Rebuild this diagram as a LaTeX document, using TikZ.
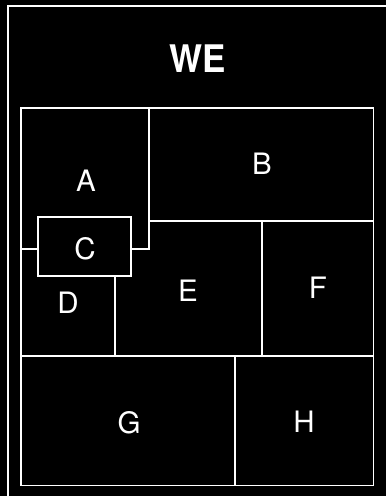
\documentclass[tikz,border=0pt]{standalone}
\usepackage{fontspec}
\setmainfont{TeX Gyre Heros}
\begin{document}
\begin{tikzpicture}[x=1pt,y=-1pt,
  wall/.style={draw=white,line width=1.7pt,line join=miter},
  room/.style={text=white,font=\fontsize{29.5}{29.5}\selectfont,inner sep=0pt},
  titletext/.style={text=white,font=\bfseries\fontsize{38}{38}\selectfont,inner sep=0pt,xscale=0.92}]
\fill[black] (0,0) rectangle (386,496);
\useasboundingbox (0,0) rectangle (386,496);
\begin{scope}
\clip (0,0) rectangle (386,496);
\draw[wall] (8,6) rectangle (395,505);
\end{scope}
% inner frame
\draw[wall] (21,108) rectangle (373.5,485.5);
% A boundary
\draw[wall] (149,108) -- (149,249) -- (131,249);
\draw[wall] (149,221) -- (373.5,221);
% C box
\draw[wall] (38,217) rectangle (131,276);
\draw[wall] (21,249) -- (38,249);
% D right
\draw[wall] (115,276) -- (115,356);
% E/F divider
\draw[wall] (262,221) -- (262,356);
% middle horizontal
\draw[wall] (21,356) -- (373.5,356);
% G/H divider
\draw[wall] (235,356) -- (235,485.5);
% labels
\node[titletext] (we) at (198,59) {WE};
\node[room] (a) at (86,181) {A};
\node[room] (b) at (262,164) {B};
\node[room] (c) at (85,249) {C};
\node[room] (d) at (68,303) {D};
\node[room] (e) at (188,291) {E};
\node[room] (f) at (318,288) {F};
\node[room] (g) at (129,423) {G};
\node[room] (h) at (304,422) {H};
\end{tikzpicture}
\end{document}
